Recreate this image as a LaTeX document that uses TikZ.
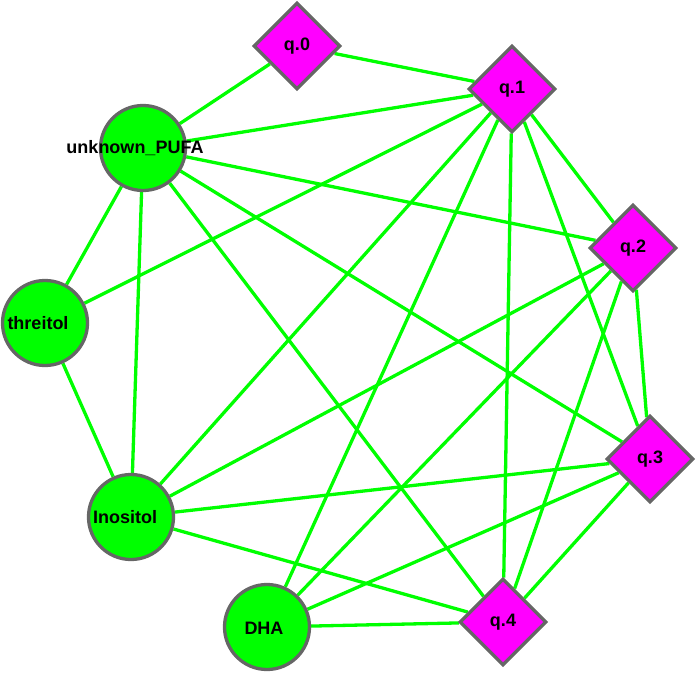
\documentclass[tikz,border=0pt]{standalone}
\usepackage{fontspec}
\setmainfont{Liberation Sans}
\usetikzlibrary{shapes.geometric}
\definecolor{lime}{RGB}{0,255,0}
\definecolor{mag}{RGB}{255,0,255}
\definecolor{bord}{RGB}{102,102,102}
\pgfdeclarelayer{bg}
\pgfsetlayers{bg,main}
\begin{document}
\begin{tikzpicture}[x=1pt,y=-1pt,
  metab/.style={circle,draw=bord,line width=3.3pt,fill=lime,minimum size=85pt,inner sep=0pt},
  qnode/.style={diamond,draw=bord,line width=3.3pt,fill=mag,minimum width=87pt,minimum height=87pt,inner sep=0pt,
     font=\fontsize{18}{20}\selectfont\bfseries},
  lbl/.style={inner sep=0pt,font=\fontsize{18}{20}\selectfont\bfseries},
  link/.style={draw=lime,line width=3.3pt}]
\useasboundingbox (0,0) rectangle (697,673);
% metabolite nodes
\node[metab] (pufa) at (143,148) {};
\node[metab] (thr) at (45,323) {};
\node[metab] (ino) at (131,517) {};
\node[metab] (dha) at (267,627) {};
\node[lbl] (lpufa) at (135,148) {unknown\_PUFA};
\node[lbl] (lthr) at (38,323) {threitol};
\node[lbl] (lino) at (125,517) {Inositol};
\node[lbl] (ldha) at (264,628) {DHA};
% module nodes
\node[qnode] (q0) at (297,46) {q.0};
\node[qnode] (q1) at (512,89) {q.1};
\node[qnode] (q2) at (633,248) {q.2};
\node[qnode] (q3) at (650,459) {q.3};
\node[qnode] (q4) at (503,622) {q.4};
\begin{pgfonlayer}{bg}
\path[link] (q0) -- (pufa);
\path[link] (q0) -- (q1);
\path[link] (q1) -- (pufa);
\path[link] (q1) -- (thr);
\path[link] (q1) -- (ino);
\path[link] (q1) -- (dha);
\path[link] (q1) -- (q4);
\path[link] (q1) -- (q2);
\path[link] (q1) -- (q3);
\path[link] (pufa) -- (q2);
\path[link] (pufa) -- (q3);
\path[link] (pufa) -- (q4);
\path[link] (pufa) -- (thr);
\path[link] (pufa) -- (ino);
\path[link] (thr) -- (ino);
\path[link] (q2) -- (ino);
\path[link] (q2) -- (dha);
\path[link] (q2) -- (q3);
\path[link] (q2) -- (q4);
\path[link] (q3) -- (ino);
\path[link] (q3) -- (dha);
\path[link] (q3) -- (q4);
\path[link] (ino) -- (q4);
\path[link] (dha) -- (q4);
\end{pgfonlayer}
\end{tikzpicture}
\end{document}
